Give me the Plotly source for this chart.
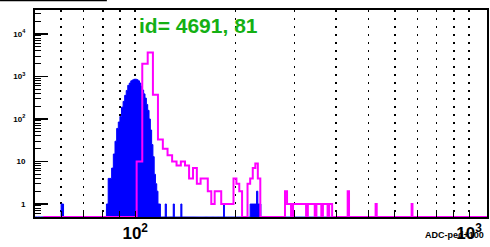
import numpy as np
import plotly.graph_objects as go

# ---------------- data ----------------
# blue histogram: 1-ADC-unit bins, lower edge -> entries
BLUE_START, BLUE_STOP, BLUE_WIDTH = 50, 1130, 1
blue_lo = [60,
           82, 83, 84, 85, 86, 87, 88, 89, 90, 91, 92, 93, 94, 95, 96, 97, 98, 99,
           100, 101, 102, 103, 104, 105, 106, 107, 108, 109, 110, 111, 112, 113,
           114, 115, 116, 117, 118,
           123, 130, 137, 184,
           221, 222, 223, 224, 225, 226, 227, 228, 229, 230, 231, 232, 233, 234,
           235, 236, 237]
blue_counts = [1,
               1, 4, 4, 7, 15, 30, 60, 85, 115, 190, 260, 360, 470, 620, 700, 790, 830, 860,
               865, 840, 790, 700, 590, 480, 390, 310, 220, 160, 100, 55, 25, 13,
               5, 3, 2, 1, 1,
               1, 1, 1, 1,
               1, 1, 1, 1, 1, 1, 1, 1, 1, 1, 2, 2, 1, 1,
               1, 1, 1]

# magenta histogram: 4-ADC-unit bins, lower edge -> entries
MAG_START, MAG_STOP, MAG_WIDTH = 53, 1133, 4
mag_lo = [101, 105, 109, 113, 117, 121, 125, 129, 133, 137, 141, 145, 149, 153,
          157, 161, 165, 169, 173, 177, 181, 185, 189, 193, 197, 201, 205,
          217, 221, 225, 229, 233,
          281, 285, 289, 297, 301, 305, 309, 313, 317, 321, 329, 333, 337, 341,
          349, 353, 357, 365, 369, 373, 381, 385, 433, 525, 673]
mag_counts = [10, 2000, 3650, 370, 33, 20, 14, 10, 8, 10, 8, 4, 7, 3,
              4, 4, 2, 1, 2, 2, 1, 1, 1, 1, 4, 3, 2,
              3, 4, 7, 9, 4,
              2, 1, 1, 1, 1, 1, 1, 1, 1, 1, 1, 1, 1, 1,
              1, 1, 1, 1, 1, 1, 1, 1, 2, 1, 1]

x_tick_vals = [60, 70, 80, 90, 100, 200, 300, 400, 500, 600, 700, 800, 900, 1000]
x_tick_text = ["", "", "", "", "10<sup>2</sup>", "", "", "", "", "", "", "", "", "10<sup>3</sup>"]
y_tick_vals = [1, 10, 100, 1000, 10000]
y_tick_text = ["1", "10", "10<sup>2</sup>", "10<sup>3</sup>", "10<sup>4</sup>"]

TITLE_TEXT = "id= 4691, 81"
X_TITLE = "ADC-ped+100"

# ---------------- axis ranges ----------------
X_RANGE = [np.log10(50.1), np.log10(1132)]
Y_RANGE = [-0.306, 4.565]
YMIN = 10 ** Y_RANGE[0]


def build(lo_list, counts, start, stop, width):
    edges = np.arange(start, stop + width, width, dtype=float)
    c = np.zeros(len(edges) - 1)
    for lo, n in zip(lo_list, counts):
        c[int(round((lo - start) / width))] = n
    y = np.maximum(c, YMIN)
    return edges, np.append(y, y[-1])


bx, by = build(blue_lo, blue_counts, BLUE_START, BLUE_STOP, BLUE_WIDTH)
mx, my = build(mag_lo, mag_counts, MAG_START, MAG_STOP, MAG_WIDTH)

fig = go.Figure()
fig.add_trace(go.Scatter(x=bx, y=by, mode="lines",
                         line=dict(shape="hv", color="#0000ff", width=1),
                         fill="tozeroy", fillcolor="#0000ff", hoverinfo="skip"))
fig.add_trace(go.Scatter(x=mx, y=my, mode="lines",
                         line=dict(shape="hv", color="#ff00ff", width=2),
                         hoverinfo="skip"))

fig.update_layout(
    width=490, height=247,
    margin=dict(l=35, r=3, t=10, b=30),
    paper_bgcolor="white", plot_bgcolor="white",
    showlegend=False,
    font=dict(family="Liberation Sans, Arial, sans-serif", color="black"),
    xaxis=dict(type="log", range=X_RANGE, automargin=False,
               tickmode="array", tickvals=x_tick_vals, ticktext=x_tick_text,
               ticks="inside", ticklen=6, tickwidth=1, tickcolor="black",
               showgrid=True, gridcolor="black", gridwidth=1.5, griddash="2px,6px",
               showline=True, linecolor="black", linewidth=2, mirror=True,
               zeroline=False,
               tickfont=dict(size=17, weight="bold", color="black"),
               ticklabelstandoff=0),
    yaxis=dict(type="log", range=Y_RANGE, automargin=False,
               tickmode="array", tickvals=y_tick_vals, ticktext=y_tick_text,
               ticks="inside", ticklen=13, tickwidth=1.5, tickcolor="black",
               minor=dict(ticks="inside", ticklen=6, tickwidth=1, tickcolor="black",
                          tickvals=[k * 10 ** d for d in range(-1, 5) for k in range(2, 10)],
                          showgrid=False),
               showgrid=False,
               showline=True, linecolor="black", linewidth=2, mirror=True,
               zeroline=False,
               tickfont=dict(size=8, weight="bold", color="black"),
               ticklabelstandoff=6),
    annotations=[
        dict(text=TITLE_TEXT, xref="paper", yref="paper", x=0.2257, y=0.9275,
             xanchor="left", yanchor="middle", showarrow=False,
             font=dict(size=21, weight="bold", color="#14b014")),
        dict(text=X_TITLE, xref="paper", yref="paper", x=0.998, y=-0.087,
             xanchor="right", yanchor="middle", showarrow=False,
             font=dict(size=9, weight="bold", color="black")),
    ],
    shapes=[dict(type="line", xref="paper", yref="paper",
                 x0=-0.0774, x1=0.159, y0=1.046, y1=1.046,
                 line=dict(color="black", width=1.5))],
)

fig.write_html("out.html",
               config={"displayModeBar": False, "staticPlot": True},
               post_script="document.body.style.margin='0px';"
                           "document.body.style.overflow='hidden';")
